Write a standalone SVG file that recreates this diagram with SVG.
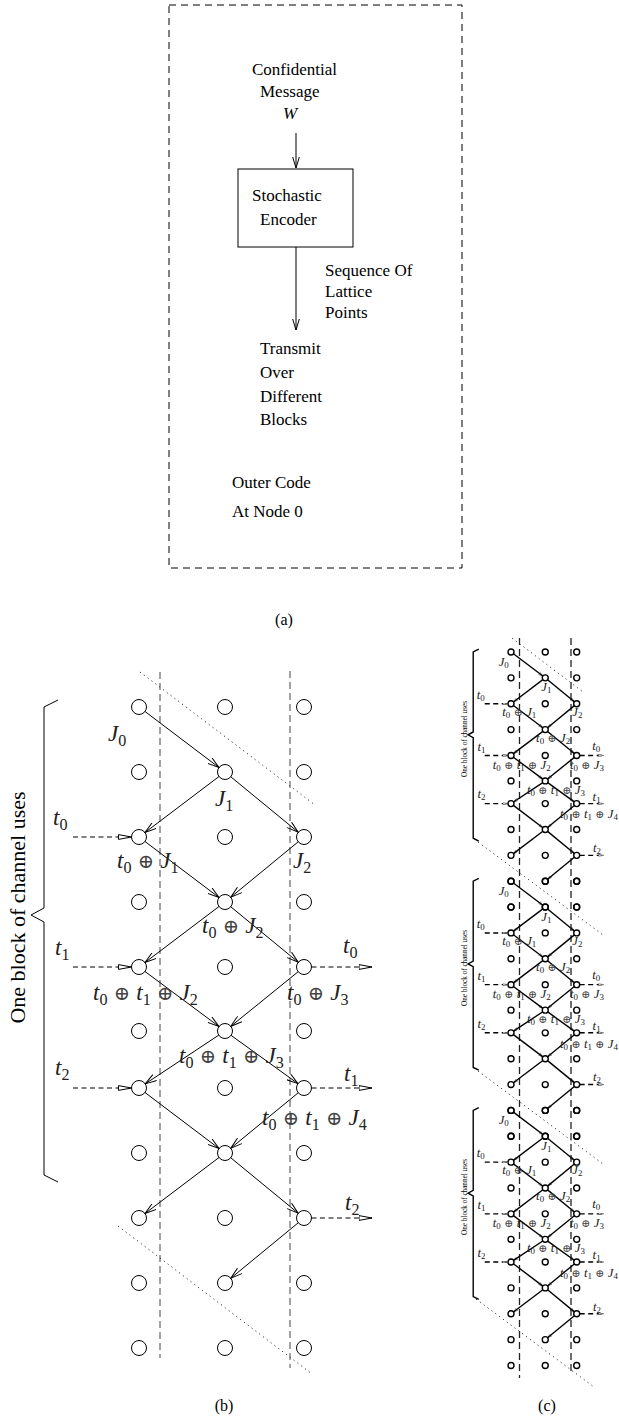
<svg xmlns="http://www.w3.org/2000/svg" xmlns:xlink="http://www.w3.org/1999/xlink" width="619" height="1418" viewBox="0 0 619 1418">
<style>
.txt{font-family:"Liberation Serif","DejaVu Serif",serif;fill:#000}
.cap{font-family:"Liberation Serif","DejaVu Serif",serif;font-size:16px;fill:#000;text-anchor:middle}
.boxd{fill:none;stroke:#000;stroke-width:1;stroke-dasharray:7 5}
.blk{fill:none;stroke:#000;stroke-width:1}
.nd{fill:none;stroke:#000;vector-effect:non-scaling-stroke}
.ar{fill:none;stroke:#000;marker-end:url(#ah);vector-effect:non-scaling-stroke}
.ar1{fill:none;stroke:#000;stroke-width:1;marker-end:url(#ah)}
.io{fill:none;stroke:#000;stroke-dasharray:5 3.5;marker-end:url(#tri);vector-effect:non-scaling-stroke}
.br{fill:none;stroke:#000;vector-effect:non-scaling-stroke}
.vd{fill:none;stroke:#444;stroke-width:1;stroke-dasharray:7 4}
.vdc{fill:none;stroke:#222;stroke-width:1.3;stroke-dasharray:7 4}
.dt{fill:none;stroke:#333;stroke-width:1;stroke-dasharray:1.2 3.6}
.lbl{font-family:"Liberation Serif","DejaVu Serif",serif;fill:#222}
.v{font-style:italic}
.s{font-size:70%;font-style:normal}
.op{font-family:"DejaVu Serif",serif;font-size:85%;fill:#444}
</style>
<defs>
<marker id="ah" viewBox="0 0 12 8" refX="11.5" refY="4" markerWidth="12" markerHeight="8" markerUnits="userSpaceOnUse" orient="auto">
<path d="M0,0.5 L11.5,4 L0,7.5" fill="none" stroke="#000" stroke-width="1"/>
</marker>
<marker id="tri" viewBox="0 0 14 6" refX="13.5" refY="3" markerWidth="14" markerHeight="6" markerUnits="userSpaceOnUse" orient="auto">
<path d="M0.5,0.6 L13.5,3 L0.5,5.4 Z" fill="#fff" stroke="#000" stroke-width="1"/>
</marker>
</defs>
<rect width="619" height="1418" fill="#fff"/>

<!-- ============ Panel (a) ============ -->
<g id="panel-a" class="txt" font-size="17">
<rect x="169" y="5" width="293" height="563" class="boxd"/>
<g id="a-message">
<text x="252" y="75">Confidential</text>
<text x="260" y="97">Message</text>
<text x="283" y="119" font-style="italic">W</text>
</g>
<g id="a-encoder">
<rect x="238" y="169" width="115" height="78" class="blk"/>
<text x="252" y="201">Stochastic</text>
<text x="260" y="225">Encoder</text>
</g>
<g id="a-sequence">
<text x="325" y="276">Sequence Of</text>
<text x="325" y="297">Lattice</text>
<text x="325" y="318">Points</text>
</g>
<g id="a-transmit">
<text x="260" y="354">Transmit</text>
<text x="260" y="378">Over</text>
<text x="260" y="402">Different</text>
<text x="260" y="425">Blocks</text>
</g>
<g id="a-outer">
<text x="232" y="488">Outer Code</text>
<text x="232" y="517">At Node 0</text>
</g>
<g id="a-connectors">
<line x1="296" y1="133" x2="296" y2="168" class="ar1"/>
<line x1="296" y1="247" x2="296" y2="330" class="ar1"/>
</g>
</g>
<text class="cap" x="284" y="625">(a)</text>

<!-- ============ Panel (b) ============ -->
<g id="panel-b" font-size="23" stroke-width="1">
<g id="b-guides">
<line x1="160" y1="672" x2="160" y2="1358" class="vd"/>
<line x1="290" y1="671" x2="290" y2="1368" class="vd"/>
<line x1="140" y1="672" x2="315" y2="805" class="dt"/>
<line x1="118" y1="1226" x2="312" y2="1374" class="dt"/>
</g>
<text class="txt" font-size="22" text-anchor="middle" transform="translate(25 907.5) rotate(-90)">One block of channel uses</text>
<g id="lattice-b">
<g id="b-nodes">
<g id="n0a"><circle cx="139" cy="707" r="7.5" class="nd"/></g>
<g id="n0b"><circle cx="225" cy="707" r="7.5" class="nd"/></g>
<g id="n0c"><circle cx="304" cy="707" r="7.5" class="nd"/></g>
<g id="n1a"><circle cx="139" cy="772" r="7.5" class="nd"/></g>
<g id="n1b"><circle cx="225" cy="772" r="7.5" class="nd"/></g>
<g id="n1c"><circle cx="304" cy="772" r="7.5" class="nd"/></g>
<g id="n2a"><circle cx="139" cy="837" r="7.5" class="nd"/></g>
<g id="n2b"><circle cx="225" cy="837" r="7.5" class="nd"/></g>
<g id="n2c"><circle cx="304" cy="837" r="7.5" class="nd"/></g>
<g id="n3a"><circle cx="139" cy="902" r="7.5" class="nd"/></g>
<g id="n3b"><circle cx="225" cy="902" r="7.5" class="nd"/></g>
<g id="n3c"><circle cx="304" cy="902" r="7.5" class="nd"/></g>
<g id="n4a"><circle cx="139" cy="967" r="7.5" class="nd"/></g>
<g id="n4b"><circle cx="225" cy="967" r="7.5" class="nd"/></g>
<g id="n4c"><circle cx="304" cy="967" r="7.5" class="nd"/></g>
<g id="n5a"><circle cx="139" cy="1031" r="7.5" class="nd"/></g>
<g id="n5b"><circle cx="225" cy="1031" r="7.5" class="nd"/></g>
<g id="n5c"><circle cx="304" cy="1031" r="7.5" class="nd"/></g>
<g id="n6a"><circle cx="139" cy="1088" r="7.5" class="nd"/></g>
<g id="n6b"><circle cx="225" cy="1088" r="7.5" class="nd"/></g>
<g id="n6c"><circle cx="304" cy="1088" r="7.5" class="nd"/></g>
<g id="n7a"><circle cx="139" cy="1153" r="7.5" class="nd"/></g>
<g id="n7b"><circle cx="225" cy="1153" r="7.5" class="nd"/></g>
<g id="n7c"><circle cx="304" cy="1153" r="7.5" class="nd"/></g>
<g id="n8a"><circle cx="139" cy="1218" r="7.5" class="nd"/></g>
<g id="n8b"><circle cx="225" cy="1218" r="7.5" class="nd"/></g>
<g id="n8c"><circle cx="304" cy="1218" r="7.5" class="nd"/></g>
<g id="n9a"><circle cx="139" cy="1283" r="7.5" class="nd"/></g>
<g id="n9b"><circle cx="225" cy="1283" r="7.5" class="nd"/></g>
<g id="n9c"><circle cx="304" cy="1283" r="7.5" class="nd"/></g>
<g id="n10a"><circle cx="139" cy="1348" r="7.5" class="nd"/></g>
<g id="n10b"><circle cx="225" cy="1348" r="7.5" class="nd"/></g>
<g id="n10c"><circle cx="304" cy="1348" r="7.5" class="nd"/></g>
</g>
<g id="b-connectors">
<line x1="145" y1="711.5" x2="219" y2="767.5" class="ar"/>
<line x1="219" y1="776.5" x2="145" y2="832.5" class="ar"/>
<line x1="230.8" y1="776.8" x2="298.2" y2="832.2" class="ar"/>
<line x1="145" y1="841.5" x2="219" y2="897.5" class="ar"/>
<line x1="298.2" y1="841.8" x2="230.8" y2="897.2" class="ar"/>
<line x1="219" y1="906.5" x2="145" y2="962.5" class="ar"/>
<line x1="230.8" y1="906.8" x2="298.2" y2="962.2" class="ar"/>
<line x1="145" y1="971.5" x2="219" y2="1026.5" class="ar"/>
<line x1="298.2" y1="971.7" x2="230.8" y2="1026.3" class="ar"/>
<line x1="218.8" y1="1035.1" x2="145.2" y2="1083.9" class="ar"/>
<line x1="231.1" y1="1035.4" x2="297.9" y2="1083.6" class="ar"/>
<line x1="145" y1="1092.5" x2="219" y2="1148.5" class="ar"/>
<line x1="298.2" y1="1092.8" x2="230.8" y2="1148.2" class="ar"/>
<line x1="219" y1="1157.5" x2="145" y2="1213.5" class="ar"/>
<line x1="230.8" y1="1157.8" x2="298.2" y2="1213.2" class="ar"/>
<line x1="298.2" y1="1222.8" x2="230.8" y2="1278.2" class="ar"/>
<line x1="73" y1="837" x2="131.5" y2="837" class="io"/>
<line x1="73" y1="967" x2="131.5" y2="967" class="io"/>
<line x1="73" y1="1088" x2="131.5" y2="1088" class="io"/>
<line x1="311.5" y1="967" x2="372" y2="967" class="io"/>
<line x1="311.5" y1="1088" x2="372" y2="1088" class="io"/>
<line x1="311.5" y1="1218" x2="372" y2="1218" class="io"/>
</g>
<path id="b-brace" d="M58,700 L44,707 L44,908 L31,915 L44,922 L44,1175 L58,1182" class="br"/>
<g id="b-labels" class="lbl">
<text x="108" y="741"><tspan class="v">J</tspan><tspan class="s" dy="5">0</tspan></text>
<text x="215" y="806"><tspan class="v">J</tspan><tspan class="s" dy="5">1</tspan></text>
<text x="53" y="825"><tspan class="v">t</tspan><tspan class="s" dy="5">0</tspan></text>
<text x="117" y="868"><tspan class="v">t</tspan><tspan class="s" dy="5">0</tspan><tspan class="op" dy="-5"> ⊕ </tspan><tspan class="v">J</tspan><tspan class="s" dy="5">1</tspan></text>
<text x="293" y="868"><tspan class="v">J</tspan><tspan class="s" dy="5">2</tspan></text>
<text x="202" y="933"><tspan class="v">t</tspan><tspan class="s" dy="5">0</tspan><tspan class="op" dy="-5"> ⊕ </tspan><tspan class="v">J</tspan><tspan class="s" dy="5">2</tspan></text>
<text x="55" y="955"><tspan class="v">t</tspan><tspan class="s" dy="5">1</tspan></text>
<text x="343" y="953"><tspan class="v">t</tspan><tspan class="s" dy="5">0</tspan></text>
<text x="93" y="1000"><tspan class="v">t</tspan><tspan class="s" dy="5">0</tspan><tspan class="op" dy="-5"> ⊕ </tspan><tspan class="v">t</tspan><tspan class="s" dy="5">1</tspan><tspan class="op" dy="-5"> ⊕ </tspan><tspan class="v">J</tspan><tspan class="s" dy="5">2</tspan></text>
<text x="287" y="1000"><tspan class="v">t</tspan><tspan class="s" dy="5">0</tspan><tspan class="op" dy="-5"> ⊕ </tspan><tspan class="v">J</tspan><tspan class="s" dy="5">3</tspan></text>
<text x="179" y="1063"><tspan class="v">t</tspan><tspan class="s" dy="5">0</tspan><tspan class="op" dy="-5"> ⊕ </tspan><tspan class="v">t</tspan><tspan class="s" dy="5">1</tspan><tspan class="op" dy="-5"> ⊕ </tspan><tspan class="v">J</tspan><tspan class="s" dy="5">3</tspan></text>
<text x="55" y="1075"><tspan class="v">t</tspan><tspan class="s" dy="5">2</tspan></text>
<text x="344" y="1081"><tspan class="v">t</tspan><tspan class="s" dy="5">1</tspan></text>
<text x="262" y="1125"><tspan class="v">t</tspan><tspan class="s" dy="5">0</tspan><tspan class="op" dy="-5"> ⊕ </tspan><tspan class="v">t</tspan><tspan class="s" dy="5">1</tspan><tspan class="op" dy="-5"> ⊕ </tspan><tspan class="v">J</tspan><tspan class="s" dy="5">4</tspan></text>
<text x="345" y="1210"><tspan class="v">t</tspan><tspan class="s" dy="5">2</tspan></text>
</g>
</g>
</g>
<text class="cap" x="224" y="1411">(b)</text>

<!-- ============ Panel (c) ============ -->
<g id="panel-c">
<g id="c-guides">
<line x1="519.5" y1="638" x2="519.5" y2="1378" class="vdc"/>
<line x1="571" y1="638" x2="571" y2="1375" class="vdc"/>
<line x1="512" y1="638" x2="583" y2="692" class="dt"/>
<line x1="478" y1="842" x2="603" y2="935" class="dt"/>
<line x1="478" y1="1071" x2="603" y2="1164" class="dt"/>
<line x1="476" y1="1299" x2="594" y2="1387" class="dt"/>
</g>
<g id="c-block1"><use xlink:href="#lattice-b" href="#lattice-b" transform="translate(455.7 370.6) scale(0.398)" font-size="32" stroke-width="1.4"/></g>
<g id="c-block2"><use xlink:href="#lattice-b" href="#lattice-b" transform="translate(455.7 599.8) scale(0.398)" font-size="32" stroke-width="1.4"/></g>
<g id="c-block3"><use xlink:href="#lattice-b" href="#lattice-b" transform="translate(455.7 829) scale(0.398)" font-size="32" stroke-width="1.4"/></g>
<text class="txt" font-size="7.2" text-anchor="middle" transform="translate(467 739) rotate(-90)">One block of channel uses</text>
<text class="txt" font-size="7.2" text-anchor="middle" transform="translate(467 968) rotate(-90)">One block of channel uses</text>
<text class="txt" font-size="7.2" text-anchor="middle" transform="translate(467 1197) rotate(-90)">One block of channel uses</text>
</g>
<text class="cap" x="547" y="1411">(c)</text>
</svg>
